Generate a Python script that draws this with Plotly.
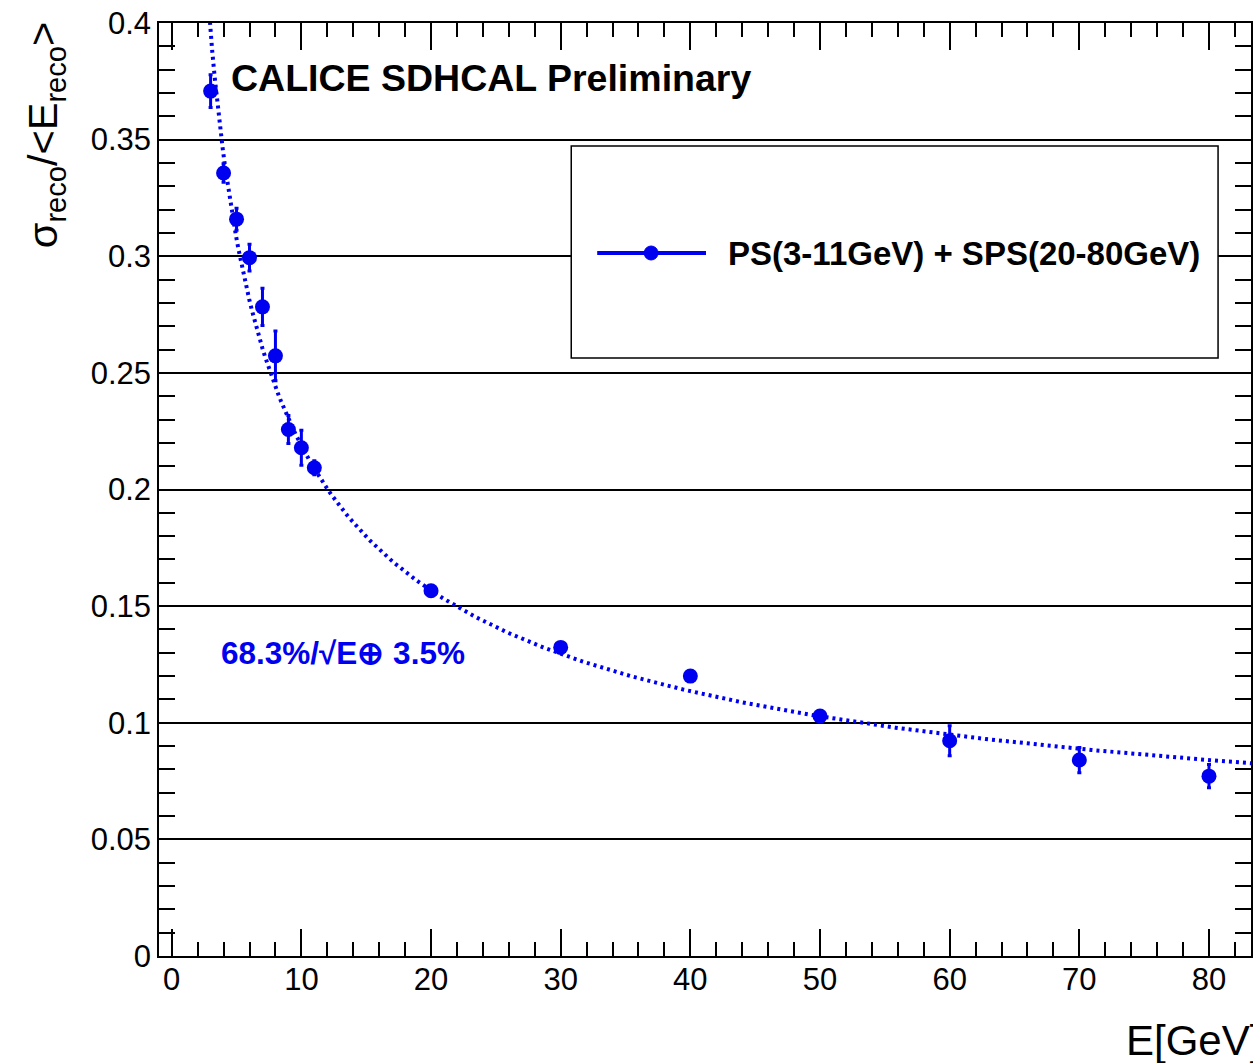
import numpy as np
import plotly.graph_objects as go

# Beam energies [GeV] and measured relative energy resolution
energy = [3, 4, 5, 6, 7, 8, 9, 10, 11, 20, 30, 40, 50, 60, 70, 80]
resolution = [0.3708, 0.3357, 0.3159, 0.2994, 0.2783, 0.2573, 0.2257, 0.2179,
              0.2093, 0.1566, 0.1323, 0.1200, 0.1029, 0.0923, 0.0840, 0.0771]
resolution_err = [0.0070, 0.0040, 0.0047, 0.0057, 0.0080, 0.0107, 0.0060, 0.0075,
                  0.0030, 0.0020, 0.0020, 0.0020, 0.0020, 0.0064, 0.0054, 0.0050]

# Fit parameters: stochastic term (68.3 %) and constant term (3.5 %)
stochastic = 0.683
constant = 0.035

e_fit = np.linspace(2.5, 84, 400)
res_fit = np.sqrt(stochastic ** 2 / e_fit + constant ** 2)

BLUE = "#0000f0"
FONT = "Liberation Sans, Arial, Helvetica, sans-serif"

W, H = 1253, 1063
ML, MR, MT, MB = 159, 0, 23, 107
PW, PH = W - ML - MR, H - MT - MB


def px(xp):
    return (xp - ML) / PW


def py(yp):
    return (H - MB - yp) / PH


fig = go.Figure()

fig.add_trace(go.Scatter(
    x=e_fit, y=res_fit, mode="lines",
    line=dict(color=BLUE, width=4, dash="3px,4px"),
    hoverinfo="skip", showlegend=False,
))

fig.add_trace(go.Scatter(
    x=energy, y=resolution, mode="markers",
    marker=dict(color=BLUE, size=15, symbol="circle"),
    error_y=dict(type="data", array=resolution_err, color=BLUE,
                 thickness=3, width=2),
    showlegend=False,
))

fig.update_xaxes(
    range=[-0.98, 83.24], showgrid=False, zeroline=False,
    showline=True, linecolor="black", linewidth=1.5, mirror="allticks",
    ticks="inside", ticklen=27, tickwidth=1.5, tickcolor="black",
    dtick=10, tick0=0, ticklabelstandoff=-5,
    minor=dict(ticks="inside", ticklen=14, dtick=2, tick0=0,
               tickcolor="black", tickwidth=1.5, showgrid=False),
    tickfont=dict(family=FONT, size=31, color="black"),
)
fig.update_yaxes(
    range=[0, 0.4], showgrid=True, gridcolor="black", gridwidth=1.5,
    zeroline=False,
    showline=True, linecolor="black", linewidth=1.5, mirror="allticks",
    ticks="inside", ticklen=30, tickwidth=1.5, tickcolor="black",
    dtick=0.05, tick0=0,
    minor=dict(ticks="inside", ticklen=16, dtick=0.01, tick0=0,
               tickcolor="black", tickwidth=1.5, showgrid=False),
    tickfont=dict(family=FONT, size=31, color="black"),
)

shapes = [
    # legend frame
    dict(type="rect", xref="paper", yref="paper",
         x0=px(572), x1=px(1220), y0=py(358), y1=py(146),
         line=dict(color="black", width=1.5), fillcolor="white", layer="above"),
    # legend sample: line and marker
    dict(type="line", xref="paper", yref="paper",
         x0=px(598), x1=px(707), y0=py(253), y1=py(253),
         line=dict(color=BLUE, width=4), layer="above"),
    dict(type="circle", xref="paper", yref="paper",
         x0=px(645), x1=px(659), y0=py(260), y1=py(246),
         line=dict(color=BLUE, width=1), fillcolor=BLUE, layer="above"),
]

annotations = [
    dict(text="<b>CALICE SDHCAL Preliminary</b>", xref="paper", yref="paper",
         x=px(229), y=py(78), xanchor="left", yanchor="middle", showarrow=False,
         font=dict(family=FONT, size=37.5, color="black")),
    dict(text="<b>PS(3-11GeV) + SPS(20-80GeV)</b>", xref="paper", yref="paper",
         x=px(727), y=py(253), xanchor="left", yanchor="middle", showarrow=False,
         font=dict(family=FONT, size=33, color="black")),
    dict(text="<b>68.3%/√E⊕ 3.5%</b>", xref="paper", yref="paper",
         x=px(219), y=py(653), xanchor="left", yanchor="middle", showarrow=False,
         font=dict(family=FONT, size=31.5, color=BLUE)),
    dict(text="σ<sub>reco</sub>/&lt;E<sub>reco</sub>&gt;", xref="paper", yref="paper",
         x=px(45), y=py(20), xanchor="center", yanchor="top", textangle=-90,
         showarrow=False, font=dict(family=FONT, size=41.5, color="black")),
    dict(text="E[GeV]", xref="paper", yref="paper",
         x=px(1126), y=py(1040), xanchor="left", yanchor="middle",
         showarrow=False, font=dict(family=FONT, size=42, color="black")),
]

fig.update_layout(
    width=W, height=H,
    margin=dict(l=ML, r=MR, t=MT, b=MB, pad=0),
    paper_bgcolor="white", plot_bgcolor="white",
    shapes=shapes, annotations=annotations,
    showlegend=False,
)

fig.write_html("out.html")
